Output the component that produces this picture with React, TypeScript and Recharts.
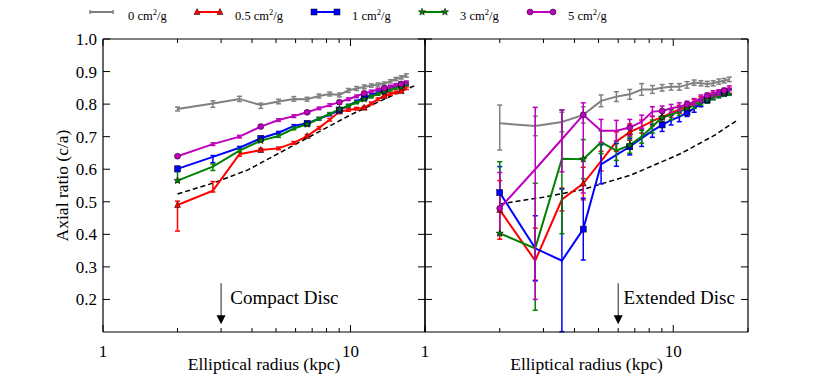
import React from 'react';
import { LineChart, Line, XAxis, YAxis, ErrorBar, ReferenceLine, ReferenceDot } from 'recharts';

// ---------------- data ----------------
const radii = [2.0, 2.78, 3.56, 4.34, 5.12, 5.9, 6.68, 7.46, 8.24, 9.02, 9.8, 10.58, 11.36, 12.14, 12.92, 13.7, 14.48, 15.26, 16.04, 16.82];

const crossSections = ['0', '0.5', '1', '3', '5'];

const xTicks = [1, 2, 3, 4, 5, 6, 7, 8, 9, 10, 20];
const xTickLabels = [1, 10];
const yTicks = [0.2, 0.3, 0.4, 0.5, 0.6, 0.7, 0.8, 0.9, 1.0];

// Compact disc (left panel)
const compactGray = [0.785, 0.802, 0.816, 0.797, 0.808, 0.816, 0.815, 0.825, 0.831, 0.828, 0.842, 0.848, 0.853, 0.857, 0.860, 0.863, 0.870, 0.877, 0.882, 0.888];
const compactRed = [0.490, 0.534, 0.646, 0.659, 0.664, 0.681, 0.702, 0.727, 0.752, 0.777, 0.782, 0.786, 0.789, 0.802, 0.815, 0.825, 0.831, 0.836, 0.840, 0.849];
const compactBlue = [0.601, 0.638, 0.666, 0.695, 0.712, 0.733, 0.741, 0.755, 0.768, 0.782, 0.795, 0.808, 0.820, 0.828, 0.836, 0.843, 0.849, 0.855, 0.859, 0.864];
const compactGreen = [0.565, 0.608, 0.657, 0.688, 0.702, 0.725, 0.738, 0.755, 0.770, 0.784, 0.795, 0.805, 0.815, 0.823, 0.831, 0.838, 0.844, 0.850, 0.853, 0.861];
const compactPurple = [0.640, 0.677, 0.700, 0.731, 0.751, 0.763, 0.775, 0.787, 0.797, 0.806, 0.815, 0.824, 0.833, 0.839, 0.845, 0.849, 0.854, 0.859, 0.862, 0.867];

const compactGrayErr = [[0.006, 0.006], [0.012, 0.008], [0.008, 0.008], [0.01, 0.006], [0.007, 0.007], [0.007, 0.007], [0.006, 0.006], [0.006, 0.006], [0.006, 0.006], [0.006, 0.006], [0.006, 0.006], [0.006, 0.006], [0.006, 0.006], [0.005, 0.005], [0.005, 0.005], [0.005, 0.005], [0.005, 0.005], [0.005, 0.005], [0.005, 0.005], [0.005, 0.005]];
const compactRedErr = [[0.08, 0.012], [0.004, 0.028], [0.006, 0.006], [0.005, 0.005], [0.004, 0.004], [0.004, 0.004], [0.004, 0.004], [0.004, 0.004], [0.004, 0.004], [0.004, 0.004], [0.004, 0.004], [0.004, 0.004], [0.004, 0.004], [0.004, 0.004], [0.004, 0.004], [0.004, 0.004], [0.004, 0.004], [0.004, 0.004], [0.004, 0.004], [0.004, 0.004]];
const compactBlueErr = [[0.008, 0.008], [0.018, 0.004], [0.004, 0.004], [0.004, 0.004], [0.004, 0.004], [0.004, 0.004], [0.004, 0.004], [0.004, 0.004], [0.004, 0.004], [0.004, 0.004], [0.004, 0.004], [0.004, 0.004], [0.004, 0.004], [0.004, 0.004], [0.004, 0.004], [0.004, 0.004], [0.004, 0.004], [0.004, 0.004], [0.004, 0.004], [0.004, 0.004]];
const compactGreenErr = [[0.005, 0.038], [0.012, 0.008], [0.004, 0.004], [0.004, 0.004], [0.004, 0.004], [0.004, 0.004], [0.004, 0.004], [0.004, 0.004], [0.004, 0.004], [0.004, 0.004], [0.004, 0.004], [0.004, 0.004], [0.004, 0.004], [0.004, 0.004], [0.004, 0.004], [0.004, 0.004], [0.004, 0.004], [0.004, 0.004], [0.004, 0.004], [0.004, 0.004]];
const compactPurpleErr = [[0.004, 0.004], [0.004, 0.004], [0.004, 0.004], [0.004, 0.004], [0.004, 0.004], [0.004, 0.004], [0.004, 0.004], [0.004, 0.004], [0.004, 0.004], [0.004, 0.004], [0.004, 0.004], [0.004, 0.004], [0.004, 0.004], [0.004, 0.004], [0.004, 0.004], [0.004, 0.004], [0.004, 0.004], [0.004, 0.004], [0.004, 0.004], [0.004, 0.004]];

const compactDashR = [2.0, 2.8, 3.85, 5.68, 10.0, 15.9, 18.1];
const compactDashV = [0.524, 0.558, 0.598, 0.667, 0.767, 0.838, 0.856];

// Extended disc (right panel)
const extendedGray = [0.741, 0.733, 0.745, 0.767, 0.810, 0.823, 0.830, 0.845, 0.845, 0.850, 0.853, 0.853, 0.859, 0.866, 0.864, 0.862, 0.864, 0.869, 0.872, 0.876];
const extendedRed = [0.475, 0.319, 0.507, 0.556, 0.625, 0.685, 0.714, 0.731, 0.748, 0.761, 0.772, 0.784, 0.794, 0.804, 0.813, 0.823, 0.828, 0.833, 0.838, 0.841];
const extendedBlue = [0.528, 0.357, 0.319, 0.416, 0.615, 0.644, 0.669, 0.695, 0.718, 0.736, 0.751, 0.761, 0.774, 0.787, 0.802, 0.813, 0.823, 0.830, 0.835, 0.838];
const extendedGreen = [0.403, 0.357, 0.632, 0.631, 0.683, 0.657, 0.674, 0.700, 0.731, 0.759, 0.767, 0.777, 0.787, 0.797, 0.807, 0.813, 0.821, 0.827, 0.832, 0.835];
const extendedPurple = [0.480, 0.600, 0.692, 0.767, 0.718, 0.718, 0.728, 0.746, 0.777, 0.779, 0.787, 0.792, 0.799, 0.807, 0.818, 0.826, 0.833, 0.836, 0.841, 0.849];

const extendedGrayErr = [[0.082, 0.056], [0.03, 0.03], [0.03, 0.03], [0.025, 0.025], [0.018, 0.018], [0.015, 0.015], [0.015, 0.015], [0.018, 0.018], [0.012, 0.012], [0.01, 0.01], [0.01, 0.01], [0.01, 0.01], [0.01, 0.01], [0.008, 0.008], [0.008, 0.008], [0.008, 0.008], [0.008, 0.008], [0.008, 0.008], [0.007, 0.007], [0.007, 0.007]];
const extendedRedErr = [[0.09, 0.09], [0.06, 0.1], [0.035, 0.035], [0.05, 0.05], [0.03, 0.03], [0.03, 0.03], [0.025, 0.025], [0.02, 0.02], [0.015, 0.015], [0.015, 0.015], [0.012, 0.012], [0.012, 0.012], [0.01, 0.01], [0.01, 0.01], [0.01, 0.01], [0.008, 0.008], [0.008, 0.008], [0.008, 0.008], [0.008, 0.008], [0.008, 0.008]];
const extendedBlueErr = [[0.05, 0.08], [0.1, 0.1], [0.218, 0.22], [0.095, 0.095], [0.06, 0.06], [0.035, 0.035], [0.025, 0.025], [0.025, 0.025], [0.02, 0.02], [0.02, 0.02], [0.015, 0.015], [0.015, 0.015], [0.012, 0.012], [0.012, 0.012], [0.01, 0.01], [0.01, 0.01], [0.008, 0.008], [0.008, 0.008], [0.008, 0.008], [0.008, 0.008]];
const extendedGreenErr = [[0.005, 0.22], [0.19, 0.2], [0.23, 0.15], [0.06, 0.06], [0.035, 0.035], [0.03, 0.03], [0.025, 0.025], [0.02, 0.02], [0.02, 0.02], [0.015, 0.015], [0.015, 0.015], [0.012, 0.012], [0.012, 0.012], [0.01, 0.01], [0.01, 0.01], [0.01, 0.01], [0.008, 0.008], [0.008, 0.008], [0.008, 0.008], [0.008, 0.008]];
const extendedPurpleErr = [[0.08, 0.11], [0.4, 0.19], [0.1, 0.09], [0.24, 0.037], [0.035, 0.035], [0.032, 0.032], [0.025, 0.025], [0.02, 0.02], [0.015, 0.015], [0.015, 0.015], [0.012, 0.012], [0.012, 0.012], [0.01, 0.01], [0.01, 0.01], [0.01, 0.01], [0.008, 0.008], [0.008, 0.008], [0.008, 0.008], [0.008, 0.008], [0.007, 0.007]];

const extendedDashR = [2.0, 3.0, 4.24, 6.75, 10.8, 14.7, 18.3];
const extendedDashV = [0.493, 0.514, 0.536, 0.582, 0.649, 0.705, 0.753];

const annotationArrowR = [3.0, 6.0];
const annotationTextR = [3.27, 6.31];
const annotationTexts = ['Compact Disc', 'Extended Disc'];
const arrowTopV = 0.25;
const arrowTipV = 0.124;
const annotationTextV = 0.207;

// ---------------- styles ----------------
const FONT = '"Liberation Serif", "Times New Roman", serif';
const COLORS = ['#808080', '#ff0000', '#0000ff', '#008000', '#bf00bf'];
const SHAPES = ['none', 'triangle', 'square', 'star', 'circle'];
const MARK_EVERY = 3;

function buildRows(series: number[][], errs: number[][][]) {
  return radii.map((r, i) => {
    const row: any = { r };
    series.forEach((s, k) => {
      row['s' + k] = s[i];
      row['e' + k] = errs[k][i];
    });
    return row;
  });
}

const compactRows = buildRows(
  [compactGray, compactRed, compactBlue, compactGreen, compactPurple],
  [compactGrayErr, compactRedErr, compactBlueErr, compactGreenErr, compactPurpleErr]
);
const extendedRows = buildRows(
  [extendedGray, extendedRed, extendedBlue, extendedGreen, extendedPurple],
  [extendedGrayErr, extendedRedErr, extendedBlueErr, extendedGreenErr, extendedPurpleErr]
);
const compactDash = compactDashR.map((r, i) => ({ r, v: compactDashV[i] }));
const extendedDash = extendedDashR.map((r, i) => ({ r, v: extendedDashV[i] }));

function starPoints(cx: number, cy: number, R: number, r: number) {
  const pts: string[] = [];
  for (let k = 0; k < 10; k++) {
    const a = -Math.PI / 2 + (k * Math.PI) / 5;
    const rad = k % 2 === 0 ? R : r;
    pts.push(`${cx + rad * Math.cos(a)},${cy + rad * Math.sin(a)}`);
  }
  return pts.join(' ');
}

function Marker({ shape, cx, cy, color }: any) {
  const s = 3;
  const edge = { stroke: '#000', strokeWidth: 0.5 };
  if (shape === 'triangle')
    return <polygon points={`${cx},${cy - s - 0.5} ${cx - s},${cy + s - 0.5} ${cx + s},${cy + s - 0.5}`} fill={color} {...edge} />;
  if (shape === 'square') return <rect x={cx - s} y={cy - s} width={2 * s} height={2 * s} fill={color} {...edge} />;
  if (shape === 'circle') return <circle cx={cx} cy={cy} r={s} fill={color} {...edge} />;
  if (shape === 'star') return <polygon points={starPoints(cx, cy, 3.8, 1.6)} fill={color} {...edge} />;
  return null;
}

const makeDot = (shape: string, color: string) => (props: any) => {
  const { cx, cy, index } = props;
  if (shape === 'none' || index % MARK_EVERY !== 0 || cx == null || cy == null) return <g key={`d${index}`} />;
  return (
    <g key={`d${index}`}>
      <Marker shape={shape} cx={cx} cy={cy} color={color} />
    </g>
  );
};

const tickText = { fontFamily: FONT, fontSize: 17, fill: '#000' };

const bottomTick = (props: any) => {
  const { x, y, payload } = props;
  const v = payload.value;
  const major = v === 1 || v === 10;
  return (
    <g>
      <line x1={x} x2={x} y1={y} y2={y - (major ? 7 : 4)} stroke="#000" strokeWidth={1} />
      {xTickLabels.includes(v) ? (
        <text x={x} y={y + 25} textAnchor="middle" {...tickText}>
          {v}
        </text>
      ) : null}
    </g>
  );
};

const topTick = (props: any) => {
  const { x, y, payload } = props;
  const v = payload.value;
  const major = v === 1 || v === 10;
  return <line x1={x} x2={x} y1={y} y2={y + (major ? 7 : 4)} stroke="#000" strokeWidth={1} />;
};

const leftTick = (showLabels: boolean) => (props: any) => {
  const { x, y, payload } = props;
  return (
    <g>
      <line x1={x} x2={x + 7} y1={y} y2={y} stroke="#000" strokeWidth={1} />
      {showLabels ? (
        <text x={x - 6} y={y} dy="0.35em" textAnchor="end" {...tickText}>
          {Number(payload.value).toFixed(1)}
        </text>
      ) : null}
    </g>
  );
};

const rightTick = (props: any) => {
  const { x, y } = props;
  return <line x1={x} x2={x - 7} y1={y} y2={y} stroke="#000" strokeWidth={1} />;
};

const frame = { stroke: '#000', strokeWidth: 1.2 };

function Panel({ rows, dash, showYLabels, idx, width, mLeft, mRight, left }: any) {
  // every axis takes 1px of room, margins are reduced accordingly
  return (
    <div style={{ position: 'absolute', left, top: 0 }}>
      <LineChart width={width} height={391} data={rows} margin={{ top: 38, right: mRight - 1, bottom: 58, left: mLeft - 1 }}>
        <XAxis xAxisId="b" dataKey="r" type="number" scale="log" domain={[1, 20]} allowDataOverflow ticks={xTicks} interval={0}
          height={1} tickSize={0} tickMargin={0} tickLine={false} axisLine={frame} tick={bottomTick} />
        <XAxis xAxisId="t" orientation="top" dataKey="r" type="number" scale="log" domain={[1, 20]} allowDataOverflow ticks={xTicks} interval={0}
          height={1} tickSize={0} tickMargin={0} tickLine={false} axisLine={frame} tick={topTick} />
        <YAxis yAxisId="l" type="number" domain={[0.1, 1.0]} allowDataOverflow ticks={yTicks} interval={0}
          width={1} tickSize={0} tickMargin={0} tickLine={false} axisLine={frame} tick={leftTick(showYLabels)} />
        <YAxis yAxisId="r" orientation="right" type="number" domain={[0.1, 1.0]} allowDataOverflow ticks={yTicks} interval={0}
          width={1} tickSize={0} tickMargin={0} tickLine={false} axisLine={frame} tick={rightTick} />

        <Line xAxisId="b" yAxisId="l" data={dash} dataKey="v" type="linear" stroke="#000" strokeWidth={1.5}
          strokeDasharray="5 3" dot={false} activeDot={false} isAnimationActive={false} />
        {COLORS.map((c, k) => (
          <Line key={k} xAxisId="b" yAxisId="l" dataKey={'s' + k} type="linear" stroke={c} strokeWidth={2}
            dot={makeDot(SHAPES[k], c)} activeDot={false} isAnimationActive={false}>
            <ErrorBar dataKey={'e' + k} direction="y" width={2.5} strokeWidth={1.5} stroke={c} isAnimationActive={false} />
          </Line>
        ))}

        <ReferenceLine xAxisId="b" yAxisId="l" segment={[{ x: annotationArrowR[idx], y: arrowTopV }, { x: annotationArrowR[idx], y: arrowTipV + 0.02 }]}
          stroke="#222" strokeWidth={1} ifOverflow="visible" />
        <ReferenceDot xAxisId="b" yAxisId="l" x={annotationArrowR[idx]} y={arrowTipV} ifOverflow="visible"
          shape={(p: any) => <polygon points={`${p.cx},${p.cy} ${p.cx - 4.5},${p.cy - 9} ${p.cx + 4.5},${p.cy - 9}`} fill="#000" />} />
        <ReferenceDot xAxisId="b" yAxisId="l" x={annotationTextR[idx]} y={annotationTextV} ifOverflow="visible"
          shape={(p: any) => (
            <text x={p.cx} y={p.cy} dy="0.35em" textAnchor="start" fontFamily={FONT} fontSize={19} fill="#000">
              {annotationTexts[idx]}
            </text>
          )} />
      </LineChart>
    </div>
  );
}

function Overlay() {
  const legendX = [90, 197, 314, 422, 530];
  const lineLen = 23;
  const ly = 12;
  return (
    <svg width={830} height={391} style={{ position: 'absolute', left: 0, top: 0, pointerEvents: 'none' }}>
      {crossSections.map((v, k) => {
        const x0 = legendX[k];
        const c = COLORS[k];
        return (
          <g key={k}>
            <line x1={x0} x2={x0 + lineLen} y1={ly} y2={ly} stroke={c} strokeWidth={2} />
            {SHAPES[k] === 'none' ? (
              <g>
                <line x1={x0} x2={x0} y1={ly - 2} y2={ly + 2} stroke={c} strokeWidth={1.5} />
                <line x1={x0 + lineLen} x2={x0 + lineLen} y1={ly - 2} y2={ly + 2} stroke={c} strokeWidth={1.5} />
              </g>
            ) : (
              <g>
                <Marker shape={SHAPES[k]} cx={x0} cy={ly} color={c} />
                <Marker shape={SHAPES[k]} cx={x0 + lineLen} cy={ly} color={c} />
              </g>
            )}
            <text x={x0 + 38} y={ly + 8} fontFamily={FONT} fontSize={12.5} fill="#000">
              {v} cm<tspan dy={-5} fontSize={8.5}>2</tspan><tspan dy={5}>/g</tspan>
            </text>
          </g>
        );
      })}
      <text x={264} y={370} textAnchor="middle" fontFamily={FONT} fontSize={17.5} fill="#000">Elliptical radius (kpc)</text>
      <text x={586.5} y={370} textAnchor="middle" fontFamily={FONT} fontSize={17.5} fill="#000">Elliptical radius (kpc)</text>
      <text x={0} y={0} transform="translate(68,185.5) rotate(-90)" textAnchor="middle" fontFamily={FONT} fontSize={17.5} fill="#000">
        Axial ratio (c/a)
      </text>
    </svg>
  );
}

export default function App() {
  return (
    <div style={{ position: 'absolute', left: 0, top: 0, width: 830, height: 391, background: '#fff', overflow: 'hidden' }}>
      <Panel rows={compactRows} dash={compactDash} showYLabels={true} idx={0} width={440} mLeft={103} mRight={15} left={0} />
      <Panel rows={extendedRows} dash={extendedDash} showYLabels={false} idx={1} width={420} mLeft={15} mRight={82} left={410} />
      <Overlay />
    </div>
  );
}
